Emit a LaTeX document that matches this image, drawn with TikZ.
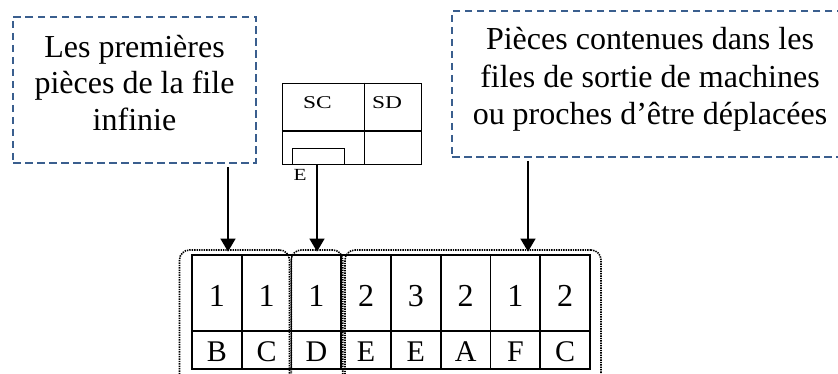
\documentclass[tikz,border=0pt]{standalone}
\usepackage{fontspec}
\usepackage{graphicx}
\setmainfont{Liberation Serif}
\usetikzlibrary{arrows.meta,calc}
\definecolor{noteblue}{HTML}{3A5E8E}
\begin{document}
\begin{tikzpicture}[x=1pt,y=-1pt,
  note/.style={draw=noteblue, line width=1.8pt, dash pattern=on 7.5pt off 4.5pt,
    inner sep=0pt},
  notetext/.style={align=center, inner sep=0pt, anchor=north},
  cellbox/.style={draw, line width=1.8pt, inner sep=0pt, minimum width=49.75pt},
  numcell/.style={cellbox, minimum height=76pt, text height=27pt, text depth=0pt,
    font=\fontsize{32}{36}\selectfont},
  letcell/.style={cellbox, minimum height=38pt, text height=23pt, text depth=0pt,
    font=\fontsize{30}{34}\selectfont},
  group/.style={draw=black, line width=1.6pt, dash pattern=on 1.4pt off 1.0pt,
    rounded corners=10pt, inner sep=0pt},
  arr/.style={line width=1.5pt, -{Triangle[length=13pt,width=15pt]}},
  small/.style={inner sep=0pt, font=\fontsize{18}{20}\selectfont},
  thinbox/.style={draw, line width=1.3pt, inner sep=0pt}]
\useasboundingbox (0,0) rectangle (838,374);
\clip (0,0) rectangle (838,374);

% dashed notes
\node[note, minimum width=243pt, minimum height=146pt] (lbox) at (134.5,90) {};
\node[notetext, font=\fontsize{32}{36.5}\selectfont] (ltext) at (134.5,35)
  {Les premières\\pièces de la file\\infinie};
\node[note, minimum width=393pt, minimum height=146pt] (rbox) at (648.5,84) {};
\node[notetext, font=\fontsize{32}{37.5}\selectfont] (rtext) at (650,27.5)
  {Pièces contenues dans les\\files de sortie de machines\\ou proches d’être déplacées};

% machine box with its two zones
\node[thinbox, minimum width=139.5pt, minimum height=81pt] (mbox) at (352,123.75) {};
\coordinate (mdiv) at (364.3,0);
\coordinate (mmid) at (0,131);
\draw[line width=1.3pt] (mbox.north -| mdiv) -- (mbox.south -| mdiv);
\draw[line width=1.3pt] (mbox.west |- mmid) -- (mbox.east |- mmid);
\node[thinbox, minimum width=52pt, minimum height=16pt] (ebox) at (318.3,156.3) {};
\node[small] (sc) at (317.5,103) {\scalebox{1.3}[1]{SC}};
\node[small] (sd) at (387,103) {\scalebox{1.3}[1]{SD}};
\node[small, font=\fontsize{17}{19}\selectfont] (elab) at (300,175) {\scalebox{1.25}[1]{E}};

% queue table
\foreach \i/\n/\l in {1/1/B,2/1/C,3/1/D,4/2/E,5/3/E,6/2/A,7/1/F,8/2/C}{
  \node[numcell] (n\i) at ({192+49.75*(\i-0.5)},293) {\n};
  \node[letcell] (l\i) at ({192+49.75*(\i-0.5)},350) {\l};
}

% dotted groupings
\node[group, minimum width=110pt, minimum height=135pt] (g1) at (234.5,317.5) {};
\node[group, minimum width=51.5pt, minimum height=135pt] (g2) at (317,317.5) {};
\node[group, minimum width=256pt, minimum height=135pt] (g3) at (473,317.5) {};

% connectors
\coordinate (ax1) at (228,0);
\coordinate (ax2) at (317,0);
\coordinate (ax3) at (528,0);
\draw[arr, shorten <=3.5pt, shorten >=2.5pt] (lbox.south -| ax1) -- (n1.north -| ax1);
\draw[arr, shorten >=2.5pt] (ebox.south -| ax2) -- (n3.north -| ax2);
\draw[arr, shorten <=3pt, shorten >=2.5pt] (rbox.south -| ax3) -- (n7.north -| ax3);
\end{tikzpicture}
\end{document}
